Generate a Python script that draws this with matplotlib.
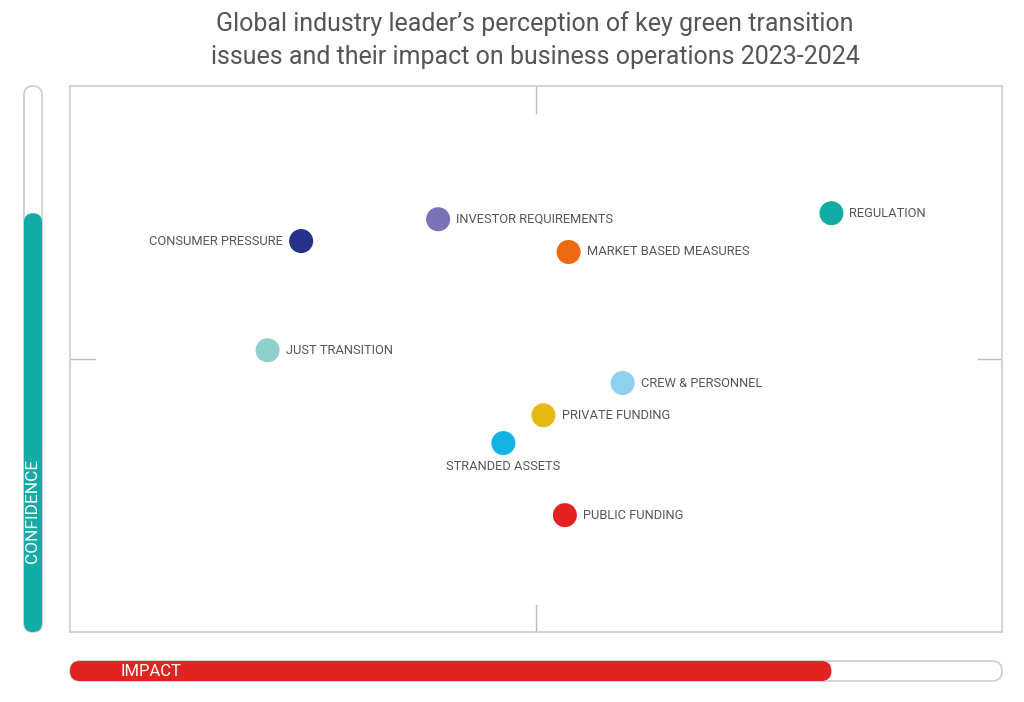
import matplotlib
matplotlib.use("Agg")
import matplotlib.pyplot as plt
from matplotlib.patches import FancyBboxPatch

plt.rcParams['font.family'] = ['Roboto', 'DejaVu Sans']

# ---- data ----
issues = ["CONSUMER PRESSURE", "INVESTOR REQUIREMENTS", "MARKET BASED MEASURES",
          "REGULATION", "JUST TRANSITION", "CREW & PERSONNEL", "PRIVATE FUNDING",
          "STRANDED ASSETS", "PUBLIC FUNDING"]
impact = [24.8, 39.5, 53.5, 81.7, 21.2, 59.3, 50.8, 46.5, 53.1]
confidence = [71.6, 75.6, 69.6, 76.7, 51.6, 45.6, 39.7, 34.6, 21.4]
colors = ["#26318a", "#7b72b8", "#ec6a12", "#12aba5", "#8fd0cc", "#8fd0f0",
          "#e5b911", "#12b2e2", "#e12321"]
label_side = ["left", "right", "right", "right", "right", "right", "right", "below", "right"]
title = "Global industry leader\u2019s perception of key green transition\nissues and their impact on business operations 2023-2024"

W, H = 1024, 702
fig = plt.figure(figsize=(W / 100, H / 100), dpi=100)

def rect(x0, y0, x1, y1):
    return [x0 / W, 1 - y1 / H, (x1 - x0) / W, (y1 - y0) / H]

ax = fig.add_axes(rect(70, 86, 1002, 632))
ax.set_xlim(0, 100)
ax.set_ylim(0, 100)
ax.set_xticks([])
ax.set_yticks([])
for s in ax.spines.values():
    s.set_color("#cccccc")
    s.set_linewidth(1.2)

# centre cross ticks
tick_c = "#bbbbbb"
ax.plot([50, 50], [100, 95], color=tick_c, lw=1)
ax.plot([50, 50], [0, 5], color=tick_c, lw=1)
ax.plot([0, 2.7], [50, 50], color=tick_c, lw=1)
ax.plot([97.4, 100], [50, 50], color=tick_c, lw=1)

ax.scatter(impact, confidence, s=300, c=colors, edgecolors="none", zorder=3)

lab_kw = dict(fontsize=9.3, color="#555555", textcoords="offset points")
for name, x, y, side in zip(issues, impact, confidence, label_side):
    if side == "left":
        ax.annotate(name, (x, y), xytext=(-13, 0), ha="right", va="center", **lab_kw)
    elif side == "below":
        ax.annotate(name, (x, y), xytext=(0, -17), ha="center", va="center", **lab_kw)
    else:
        ax.annotate(name, (x, y), xytext=(13, 0), ha="left", va="center", **lab_kw)

fig.text(535 / W, 1 - 40 / H, title, ha="center", va="center", fontsize=18,
         color="#555555", linespacing=1.45)

# ---- bars ----
def bar_axes(x0, y0, x1, y1):
    a = fig.add_axes(rect(x0, y0, x1, y1))
    a.set_xlim(0, x1 - x0)
    a.set_ylim(0, y1 - y0)
    a.axis("off")
    return a, x1 - x0, y1 - y0

# impact bar (horizontal)
bx, bw, bh = bar_axes(70, 661, 1002, 681)
bx.add_patch(FancyBboxPatch((0, 0), bw, bh, boxstyle=f"round,pad=0,rounding_size={bh/2}",
                            facecolor="white", edgecolor="#cccccc", lw=1.2, clip_on=False))
fill_w = max(impact) / 100 * bw
bx.add_patch(FancyBboxPatch((0, 0), fill_w, bh, boxstyle=f"round,pad=0,rounding_size={bh/2}",
                            facecolor="#e12321", edgecolor="none", clip_on=False))
bx.text(50, bh / 2, "IMPACT", color="white", fontsize=12, ha="left", va="center")

# confidence bar (vertical)
cx, cw, ch = bar_axes(24, 86, 42, 632)
cx.add_patch(FancyBboxPatch((0, 0), cw, ch, boxstyle=f"round,pad=0,rounding_size={cw/2}",
                            facecolor="white", edgecolor="#cccccc", lw=1.2, clip_on=False))
fill_h = max(confidence) / 100 * ch
cx.add_patch(FancyBboxPatch((0, 0), cw, fill_h, boxstyle=f"round,pad=0,rounding_size={cw/2}",
                            facecolor="#12aba5", edgecolor="none", clip_on=False))
cx.text(cw / 2, 632 - 511, "CONFIDENCE", color="white", fontsize=12.5, rotation=90,
        ha="center", va="center")

fig.savefig("out.png", dpi=100, facecolor="white")
